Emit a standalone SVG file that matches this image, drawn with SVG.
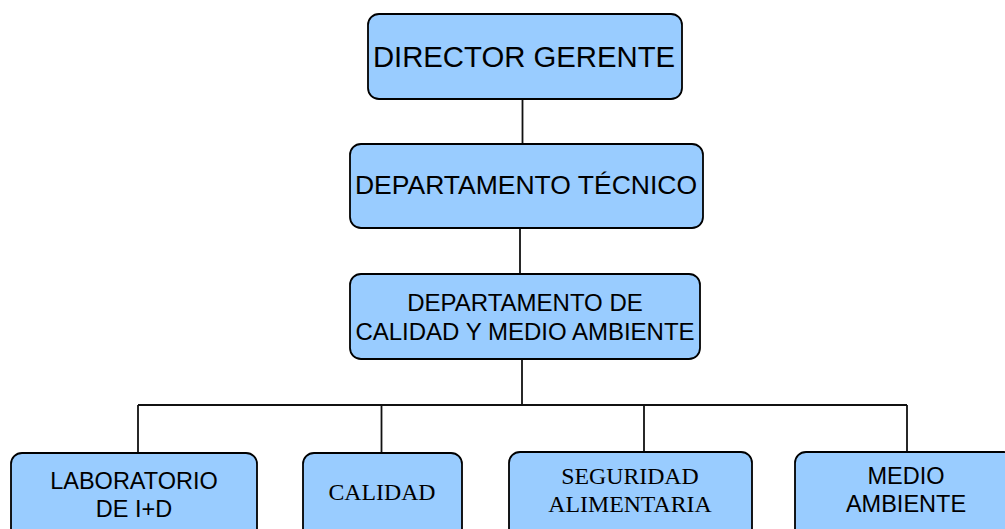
<svg xmlns="http://www.w3.org/2000/svg" width="1005" height="529" viewBox="0 0 1005 529">
<style>
.box{fill:#99ccff;stroke:#000;stroke-width:1.8}
.ln{stroke:#111;stroke-width:1.8;fill:none}
.s{font-family:"Liberation Sans",Arial,sans-serif;fill:#000;text-anchor:middle}
.r{font-family:"Liberation Serif","Times New Roman",serif;fill:#000;text-anchor:middle}
</style>
<rect width="1005" height="529" fill="#fff"/>
<g id="connectors">
<line class="ln" x1="522.5" y1="99" x2="522.5" y2="144"/>
<line class="ln" x1="520" y1="228" x2="520" y2="274"/>
<line class="ln" x1="522" y1="359" x2="522" y2="405"/>
<line class="ln" x1="138" y1="405" x2="907" y2="405"/>
<line class="ln" x1="138" y1="405" x2="138" y2="453"/>
<line class="ln" x1="381.5" y1="405" x2="381.5" y2="453"/>
<line class="ln" x1="644" y1="405" x2="644" y2="452"/>
<line class="ln" x1="907" y1="405" x2="907" y2="452"/>
</g>
<g id="director">
<rect class="box" x="368" y="14" width="314" height="85" rx="11"/>
<text class="s" x="524" y="67" font-size="29.3">DIRECTOR GERENTE</text>
</g>
<g id="tecnico">
<rect class="box" x="350" y="144" width="353" height="84" rx="11"/>
<text class="s" x="526" y="194" font-size="26.5">DEPARTAMENTO TÉCNICO</text>
</g>
<g id="calidad-medio">
<rect class="box" x="350" y="274" width="350" height="85" rx="11"/>
<text class="s" x="525" y="311" font-size="24">DEPARTAMENTO DE</text>
<text class="s" x="525" y="340" font-size="24">CALIDAD Y MEDIO AMBIENTE</text>
</g>
<g id="laboratorio">
<rect class="box" x="11" y="453" width="246" height="95" rx="11"/>
<text class="s" x="134" y="489" font-size="23.5">LABORATORIO</text>
<text class="s" x="134" y="517" font-size="23.5">DE I+D</text>
</g>
<g id="calidad">
<rect class="box" x="303" y="453" width="159" height="95" rx="11"/>
<text class="r" x="382" y="500" font-size="23.8">CALIDAD</text>
</g>
<g id="seguridad">
<rect class="box" x="509" y="452" width="243" height="95" rx="11"/>
<text class="r" x="630" y="484" font-size="23.8">SEGURIDAD</text>
<text class="r" x="630" y="512" font-size="23.8">ALIMENTARIA</text>
</g>
<g id="medio-ambiente">
<rect class="box" x="795" y="452" width="220" height="95" rx="11"/>
<text class="s" x="906" y="484" font-size="23.5">MEDIO</text>
<text class="s" x="906" y="512" font-size="23.5">AMBIENTE</text>
</g>
</svg>
